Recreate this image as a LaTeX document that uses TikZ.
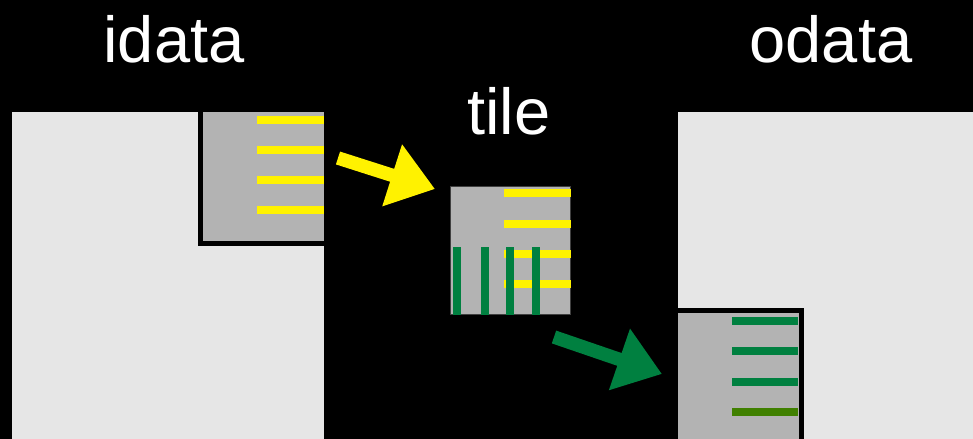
\documentclass[tikz,border=0pt]{standalone}
\usepackage{fontspec}
\setmainfont{Liberation Sans}
\usepackage{tikz}
\usetikzlibrary{arrows.meta}

\definecolor{lightpanel}{HTML}{E6E6E6}
\definecolor{tilegray}{HTML}{B3B3B3}
\definecolor{rowgreen}{HTML}{008040}
\definecolor{rowolive}{HTML}{408000}

\begin{document}
\begin{tikzpicture}[x=0.02cm, y=-0.02cm,
            titletext/.style={text=white, anchor=base, inner sep=0, font=\fontsize{37}{41}\selectfont},
            panel/.style={fill=lightpanel},
            tilebox/.style={rectangle, fill=tilegray, inner sep=0, outer sep=0, anchor=north west},
            yellowrow/.style={draw=yellow, line width=0.17cm},
            greenrow/.style={draw=rowgreen, line width=0.17cm},
            bigarrow/.style={line width=0.27cm, -{Triangle[length=0.9cm, width=1.24cm]}},]

        \useasboundingbox (0,0) rectangle (973,439);
        \fill[black] (0,0) rectangle (973,439);
        \clip (0,0) rectangle (973,439);

        % Titulos
        \node[titletext] (idata) at (174, 63)  {idata};
        \node[titletext] (tile)  at (509, 134) {tile};
        \node[titletext] (odata) at (831, 63)  {odata};

        % Paineis
        \path[panel] (12, 112)  rectangle (324, 439);
        \path[panel] (678, 112) rectangle (973, 439);

        % Bloco de entrada
        \node[tilebox, draw=black, line width=0.1cm, minimum width=2.53cm, minimum height=2.68cm]
            (itile) at (200, 109.5) {};
        \foreach \y in {120, 150, 180, 210}
            \draw[yellowrow] (257, \y) -- (324, \y);

        % Bloco do meio
        \node[tilebox, draw=black!75, line width=0.02cm, minimum width=2.42cm, minimum height=2.58cm]
            (mtile) at (450, 186) {};
        \foreach \y in {193, 224, 254, 284}
            \draw[yellowrow] (504, \y) -- (571, \y);
        \foreach \x in {457, 485, 510, 536}
            \draw[greenrow] (\x, 247) -- (\x, 314.5);

        % Bloco de saida
        \node[tilebox, draw=black, line width=0.1cm, minimum width=2.52cm, minimum height=2.7cm]
            (otile) at (675.5, 310.5) {};
        \foreach \y in {321, 351, 382}
            \draw[greenrow] (732, \y) -- (798, \y);
        \draw[greenrow, draw=rowolive] (732, 412) -- (798, 412);

        % Setas
        \coordinate (yfrom) at (338, 158);
        \coordinate (yto)   at (435, 189);
        \coordinate (gfrom) at (554, 337);
        \coordinate (gto)   at (662, 374);
        \draw[bigarrow, draw=yellow, fill=yellow] (yfrom) -- (yto);
        \draw[bigarrow, draw=rowgreen, fill=rowgreen] (gfrom) -- (gto);
    \end{tikzpicture}
\end{document}
